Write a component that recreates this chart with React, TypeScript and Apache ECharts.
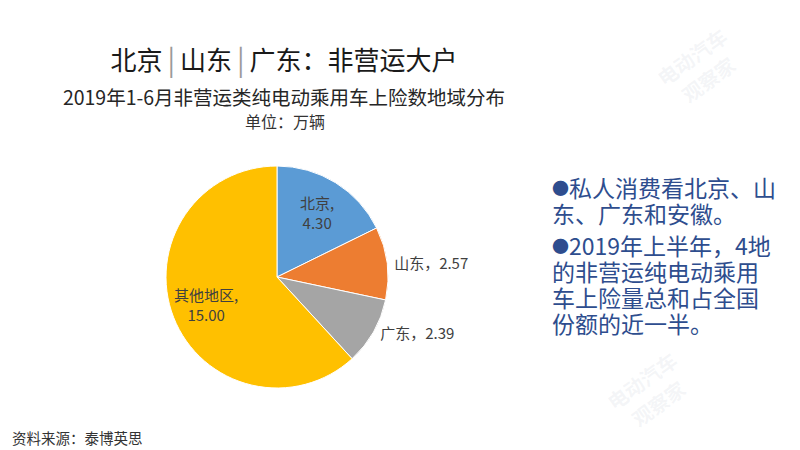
import React, { useEffect, useRef } from "react";
import * as echarts from "echarts";

const regions = ["北京", "山东", "广东", "其他地区"];
const values = [4.3, 2.57, 2.39, 15.0];
const colors = ["#5B9BD5", "#ED7D31", "#A5A5A5", "#FFC000"];
const insideLabelRegions = ["北京", "其他地区"];

const titleParts = ["北京", "山东", "广东：非营运大户"];
const subtitle = "2019年1-6月非营运类纯电动乘用车上险数地域分布";
const unitText = "单位：万辆";
const sourceText = "资料来源：泰博英思";
const para1 = ["私人消费看北京、山", "东、广东和安徽。"];
const para2 = ["2019年上半年，4地", "的非营运纯电动乘用", "车上险量总和占全国", "份额的近一半。"];
const watermark = "电动汽车\n观察家";

const FONT = "'Noto Sans CJK SC', 'Noto Sans', sans-serif";
const BLUE = "#2E4D8E";

export default function App() {
  const ref = useRef<HTMLDivElement>(null);
  useEffect(() => {
    if (!ref.current) return;
    const chart = echarts.init(ref.current, null, { renderer: "svg" });

    const titleRich = titleParts.map((p) => `{t|${p}}`).join("{bar||}");

    const mainData = regions.map((name, i) => {
      const inside = insideLabelRegions.includes(name);
      return {
        name,
        value: values[i],
        itemStyle: { color: colors[i] },
        label: inside
          ? { show: false }
          : {
              show: true,
              position: "outside",
              formatter: (p: any) => `${p.name}，${p.value.toFixed(2)}`,
            },
      };
    });

    const overlayData = regions.map((name, i) => {
      const inside = insideLabelRegions.includes(name);
      return {
        name,
        value: values[i],
        label: inside
          ? {
              show: true,
              position: "inside",
              formatter: (p: any) => `${p.name},\n${p.value.toFixed(2)}`,
            }
          : { show: false },
      };
    });

    const wmStyle = {
      text: watermark,
      fill: "rgba(190,195,210,0.16)",
      font: `bold 20px ${FONT}`,
      align: "center",
      verticalAlign: "middle",
      lineHeight: 28,
    };

    const lineRich = {
      b: { fontSize: 17, fill: BLUE, fontFamily: FONT },
      t: { fontSize: 23, fill: BLUE, fontFamily: FONT },
    };
    const paraLines = (lines: string[], y0: number) =>
      lines.map((l, i) => ({
        type: "text",
        x: 552,
        y: y0 + i * 26,
        style: {
          text: i === 0 ? `{b|●}{t|${l}}` : `{t|${l}}`,
          align: "left",
          verticalAlign: "middle",
          rich: lineRich,
        },
      }));

    chart.setOption({
      animation: false,
      backgroundColor: "#ffffff",
      textStyle: { fontFamily: FONT },
      graphic: [
        { type: "text", x: 700, y: 68, rotation: Math.PI / 5, style: wmStyle, silent: true, z: 0 },
        { type: "text", x: 650, y: 392, rotation: Math.PI / 5, style: wmStyle, silent: true, z: 0 },
        {
          type: "text",
          x: 284,
          y: 58,
          style: {
            text: titleRich,
            align: "center",
            verticalAlign: "middle",
            rich: {
              t: { fontSize: 26, fill: "#1a1a1a", fontFamily: FONT },
              bar: { fontSize: 28, fill: "#9a9a9a", fontFamily: FONT, padding: [0, 5, 0, 5] },
            },
          },
        },
        {
          type: "text",
          x: 284,
          y: 96,
          style: {
            text: subtitle,
            align: "center",
            verticalAlign: "middle",
            font: `19.5px ${FONT}`,
            fill: "#262626",
          },
        },
        {
          type: "text",
          x: 285,
          y: 121,
          style: {
            text: unitText,
            align: "center",
            verticalAlign: "middle",
            font: `16px ${FONT}`,
            fill: "#333333",
          },
        },
        {
          type: "text",
          x: 12,
          y: 437,
          style: {
            text: sourceText,
            align: "left",
            verticalAlign: "middle",
            font: `14.5px ${FONT}`,
            fill: "#333333",
          },
        },
        ...paraLines(para1, 187),
        ...paraLines(para2, 245),
      ],
      series: [
        {
          type: "pie",
          center: [277, 277],
          radius: 111,
          startAngle: 90,
          clockwise: true,
          itemStyle: { borderColor: "#ffffff", borderWidth: 1 },
          label: {
            color: "#404040",
            fontSize: 15,
            fontFamily: FONT,
          },
          labelLine: { show: false, length: 2, length2: 0 },
          emphasis: { disabled: true },
          data: mainData,
          z: 2,
        },
        {
          type: "pie",
          center: [277, 277],
          radius: 146,
          startAngle: 90,
          clockwise: true,
          silent: true,
          itemStyle: { color: "rgba(0,0,0,0)", borderWidth: 0 },
          label: {
            color: "#404040",
            fontSize: 15,
            lineHeight: 20,
            align: "center",
            fontFamily: FONT,
          },
          labelLine: { show: false },
          emphasis: { disabled: true },
          data: overlayData,
          z: 3,
        },
      ],
    });
    return () => chart.dispose();
  }, []);
  return (
    <div
      ref={ref}
      style={{ position: "fixed", left: 0, top: 0, width: 800, height: 450 }}
    />
  );
}
